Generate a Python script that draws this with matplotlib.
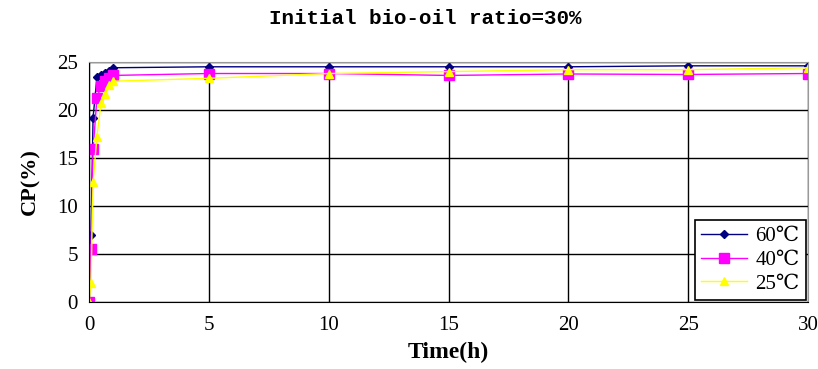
import matplotlib
matplotlib.use("Agg")
import matplotlib.pyplot as plt

# time points (h)
time_h = [0, 0.083, 0.17, 0.33, 0.5, 0.67, 0.83, 1, 5, 10, 15, 20, 25, 30]

# CP (%) for each temperature
cp_60 = [0, 7.0, 19.2, 23.4, 23.6, 23.9, 24.1, 24.4, 24.5, 24.5, 24.5, 24.5, 24.6, 24.6]
cp_40 = [0, 5.5, 15.9, 21.2, 22.5, 23.0, 23.3, 23.6, 23.8, 23.8, 23.6, 23.75, 23.7, 23.8]
cp_25 = [0, 2.0, 12.5, 17.2, 20.7, 21.7, 22.6, 23.0, 23.3, 23.8, 24.0, 24.2, 24.2, 24.4]

labels = ["60℃", "40℃", "25℃"]

serif = ["Liberation Serif", "DejaVu Serif"]

fig = plt.figure(figsize=(8.18, 3.69), dpi=100)
ax = fig.add_axes([0.1088, 0.1816, 0.879, 0.6504])

ax.plot(time_h, cp_60, color="#000080", marker="D", markersize=4, linewidth=1, label=labels[0])
ax.plot(time_h, cp_40, color="#FF00FF", marker="s", markersize=7.5, linewidth=1, label=labels[1])
ax.plot(time_h, cp_25, color="#FFFF00", marker="^", markersize=6, linewidth=1, label=labels[2])

ax.set_xlim(0, 30)
ax.set_ylim(0, 25)
ax.set_xticks(range(0, 31, 5))
ax.set_yticks(range(0, 26, 5))
ax.grid(True, color="black", linewidth=1)
ax.set_axisbelow(True)
ax.tick_params(axis="x", length=0, pad=10)
ax.tick_params(axis="y", length=0, pad=8)
for lbl in ax.get_xticklabels() + ax.get_yticklabels():
    lbl.set_family(serif)
    lbl.set_fontsize(15)
for s in ax.spines.values():
    s.set_color("black")
ax.spines["top"].set_color("#999999")
ax.spines["right"].set_color("#999999")

ax.set_xlabel("Time(h)", family=serif, fontsize=17, fontweight="bold", labelpad=5)
ax.set_ylabel("CP(%)", family=serif, fontsize=16, fontweight="bold", labelpad=12)
fig.text(0.52, 0.951, "Initial bio-oil ratio=30%", family=["Liberation Mono", "DejaVu Sans Mono"],
         fontsize=15, fontweight="bold", ha="center", va="center")

leg = ax.legend(loc="lower right", prop={"family": serif + ["Noto Sans CJK SC"], "size": 15},
                frameon=True, fancybox=False, edgecolor="black", framealpha=1,
                borderaxespad=0.1, handlelength=2.2, labelspacing=0.2, borderpad=0.3,
                handletextpad=0.4)
leg.get_frame().set_linewidth(1.2)

fig.savefig("out.png", dpi=100)
